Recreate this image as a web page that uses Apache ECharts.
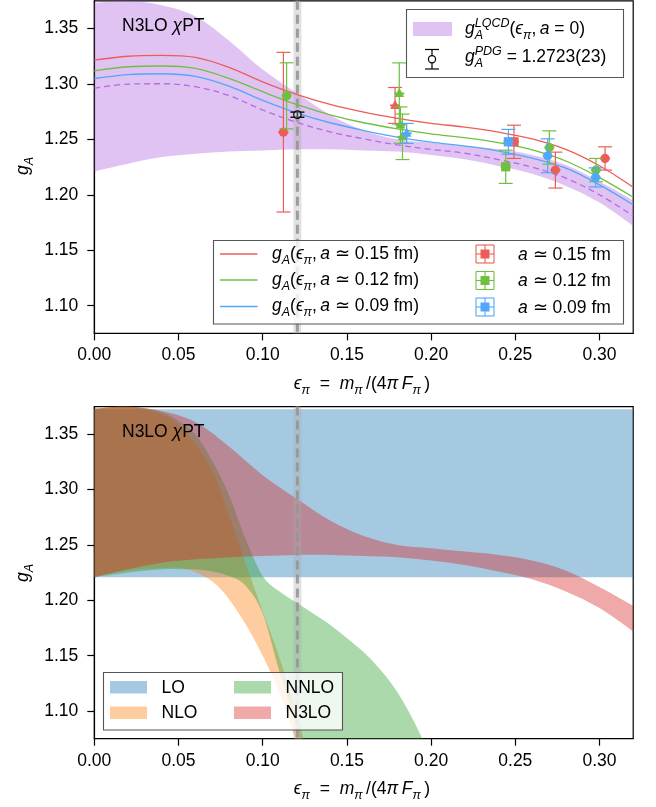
<!DOCTYPE html>
<html><head><meta charset="utf-8">
<script src="https://cdn.jsdelivr.net/npm/echarts@6/dist/echarts.min.js"></script>
<style>html,body{margin:0;padding:0;background:#fff}#c{width:656px;height:807px}</style>
</head><body><div id="c"></div>
<script>
// ---------------- data ----------------
const xTicks = [0.00, 0.05, 0.10, 0.15, 0.20, 0.25, 0.30];
const yTicks = [1.10, 1.15, 1.20, 1.25, 1.30, 1.35];
const physPoint = 0.1206;

// continuum extrapolated band (a = 0) == N3LO band
const bandX     = [0.00, 0.02, 0.04, 0.06, 0.08, 0.10, 0.12, 0.14, 0.16, 0.18, 0.20, 0.22, 0.24, 0.26, 0.28, 0.30, 0.32];
const bandUpper = [1.373, 1.375, 1.371, 1.361, 1.339, 1.313, 1.292, 1.272, 1.258, 1.250, 1.247, 1.244, 1.241, 1.236, 1.227, 1.212, 1.195];
const bandLower = [1.221, 1.228, 1.234, 1.237, 1.239, 1.240, 1.241, 1.241, 1.240, 1.239, 1.236, 1.232, 1.226, 1.219, 1.208, 1.193, 1.172];
const bandMid   = [1.2962, 1.2998, 1.3002, 1.2975, 1.2895, 1.2765, 1.2655, 1.2568, 1.2505, 1.2450, 1.2410, 1.2375, 1.2318, 1.2250, 1.2150, 1.2000, 1.1810];

// fit curves at finite lattice spacing
const fitA15 = [1.3214, 1.3250, 1.3258, 1.3240, 1.3150, 1.3018, 1.2905, 1.2815, 1.2745, 1.2690, 1.2645, 1.2610, 1.2565, 1.2505, 1.2410, 1.2262, 1.2068];
const fitA12 = [1.3118, 1.3155, 1.3162, 1.3140, 1.3050, 1.2930, 1.2815, 1.2722, 1.2650, 1.2595, 1.2550, 1.2515, 1.2470, 1.2405, 1.2305, 1.2155, 1.1978];
const fitA09 = [1.3049, 1.3085, 1.3092, 1.3068, 1.2980, 1.2852, 1.2740, 1.2650, 1.2580, 1.2520, 1.2475, 1.2440, 1.2395, 1.2330, 1.2240, 1.2090, 1.1910];

// lattice data points
const a15X = [0.1123, 0.1786, 0.2492, 0.2738, 0.3033];
const a15Y = [1.2565, 1.2806, 1.2478, 1.2223, 1.2328];
const a15E = [0.0720, 0.0162, 0.0150, 0.0162, 0.0105];
const a15S = ['circle', 'triangle', 'rect', 'circle', 'circle'];

const a12X = [0.1142, 0.1811, 0.1818, 0.1830, 0.2443, 0.2702, 0.2979];
const a12Y = [1.2893, 1.2914, 1.2629, 1.2523, 1.2253, 1.2427, 1.2223];
const a12E = [0.0298, 0.0276, 0.0164, 0.0205, 0.0150, 0.0150, 0.0105];
const a12S = ['circle', 'triangle', 'triangle', 'triangle', 'rect', 'circle', 'circle'];

const a09X = [0.1855, 0.2459, 0.2692, 0.2977];
const a09Y = [1.2554, 1.2478, 1.2352, 1.2157];
const a09E = [0.0090, 0.0112, 0.0153, 0.0086];
const a09S = ['triangle', 'rect', 'circle', 'circle'];

const pdgX = 0.1206, pdgY = 1.2723, pdgE = 0.0023;

// bottom panel: order-by-order bands
const loX = [0.00, 0.32];
const loLower = [1.2208, 1.2208];
const loUpper = [1.3725, 1.3725];

const nloX     = [0.00, 0.02, 0.04, 0.055, 0.07, 0.08, 0.09, 0.10, 0.11, 0.12, 0.125, 0.13];
const nloUpper = [1.373, 1.375, 1.368, 1.351, 1.317, 1.277, 1.233, 1.190, 1.148, 1.099, 1.070, 1.040];
const nloLower = [1.221, 1.227, 1.229, 1.228, 1.217, 1.201, 1.178, 1.150, 1.116, 1.072, 1.045, 1.015];

const nnloX     = [0.00, 0.02, 0.04, 0.05, 0.06, 0.07, 0.08, 0.09, 0.10, 0.11, 0.12, 0.13, 0.14, 0.15, 0.16, 0.17, 0.18, 0.19, 0.20];
const nnloUpper = [1.373, 1.375, 1.370, 1.362, 1.350, 1.326, 1.295, 1.255, 1.222, 1.208, 1.198, 1.188, 1.178, 1.166, 1.153, 1.137, 1.117, 1.090, 1.058];
const nnloLower = [1.221, 1.225, 1.228, 1.228, 1.228, 1.226, 1.222, 1.213, 1.188, 1.135, 1.085, 1.030, 0.980, 0.930, 0.900, 0.880, 0.860, 0.840, 0.820];

// ---------------- style ----------------
const RED = '#EC5D57', GREEN = '#70BF41', BLUE = '#51A7F9', PURPLE = '#B36AE2';
const FONT = '"Liberation Sans", Arial, Helvetica, sans-serif';
const FS = 17.5, SFS = 12.5;

const chart = echarts.init(document.getElementById('c'), null, {renderer: 'canvas'});

function smoothPath(pts) {
  let d = '';
  for (let i = 0; i < pts.length - 1; i++) {
    const p0 = pts[Math.max(i - 1, 0)], p1 = pts[i], p2 = pts[i + 1], p3 = pts[Math.min(i + 2, pts.length - 1)];
    const c1 = [p1[0] + (p2[0] - p0[0]) / 6, p1[1] + (p2[1] - p0[1]) / 6];
    const c2 = [p2[0] - (p3[0] - p1[0]) / 6, p2[1] - (p3[1] - p1[1]) / 6];
    d += ' C' + c1[0] + ' ' + c1[1] + ' ' + c2[0] + ' ' + c2[1] + ' ' + p2[0] + ' ' + p2[1];
  }
  return d;
}

function bandSeries(gi, xs, lo, hi, fill, z, smooth) {
  return {
    type: 'custom', xAxisIndex: gi, yAxisIndex: gi, z: z, silent: true,
    data: xs.map((x, i) => [x, lo[i], hi[i]]),
    encode: {x: 0, y: [1, 2]},
    renderItem: function (params, api) {
      if (params.dataIndex !== 0) return null;
      const up = xs.map((x, i) => api.coord([x, hi[i]]));
      const dn = xs.map((x, i) => api.coord([x, lo[i]])).reverse();
      let d = 'M' + up[0][0] + ' ' + up[0][1];
      d += smooth ? smoothPath(up) : up.slice(1).map(p => ' L' + p[0] + ' ' + p[1]).join('');
      d += ' L' + dn[0][0] + ' ' + dn[0][1];
      d += smooth ? smoothPath(dn) : dn.slice(1).map(p => ' L' + p[0] + ' ' + p[1]).join('');
      d += ' Z';
      const cs = params.coordSys;
      return {
        type: 'path', shape: {pathData: d}, style: {fill: fill},
        clipPath: {type: 'rect', shape: {x: cs.x, y: cs.y, width: cs.width, height: cs.height}}
      };
    }
  };
}

function lineSeries(ys, color, dashed) {
  return {
    type: 'line', xAxisIndex: 0, yAxisIndex: 0, z: 4, silent: true,
    data: bandX.map((x, i) => [x, ys[i]]), smooth: 0.35, showSymbol: false, symbol: 'none',
    lineStyle: {color: color, width: 1.3, type: dashed ? [6, 4] : 'solid'}
  };
}

function markerShape(sym, cx, cy, r, color) {
  if (sym === 'rect') return {type: 'rect', shape: {x: cx - r, y: cy - r, width: 2 * r, height: 2 * r}, style: {fill: color}};
  if (sym === 'triangle') return {type: 'polygon', shape: {points: [[cx, cy - r * 1.25], [cx - r * 1.05, cy + r * 0.75], [cx + r * 1.05, cy + r * 0.75]]}, style: {fill: color}};
  return {type: 'circle', shape: {cx: cx, cy: cy, r: r}, style: {fill: color}};
}

function pointSeries(xs, ys, es, syms, color) {
  return {
    type: 'custom', xAxisIndex: 0, yAxisIndex: 0, z: 6, silent: true,
    data: xs.map((x, i) => [x, ys[i], es[i]]),
    encode: {x: 0, y: 1},
    renderItem: function (params, api) {
      const i = params.dataIndex;
      const c = api.coord([api.value(0), api.value(1)]);
      const t = api.coord([api.value(0), api.value(1) + api.value(2)]);
      const b = api.coord([api.value(0), api.value(1) - api.value(2)]);
      const cw = 7;
      return {
        type: 'group', children: [
          {type: 'line', shape: {x1: c[0], y1: t[1], x2: c[0], y2: b[1]}, style: {stroke: color, lineWidth: 1.2}},
          {type: 'line', shape: {x1: c[0] - cw, y1: t[1], x2: c[0] + cw, y2: t[1]}, style: {stroke: color, lineWidth: 1.2}},
          {type: 'line', shape: {x1: c[0] - cw, y1: b[1], x2: c[0] + cw, y2: b[1]}, style: {stroke: color, lineWidth: 1.2}},
          {type: 'line', shape: {x1: c[0] - 5, y1: c[1], x2: c[0] + 5, y2: c[1]}, style: {stroke: color, lineWidth: 2}},
          markerShape(syms[i], c[0], c[1], 4.6, color)
        ]
      };
    }
  };
}

function physSeries(gi) {
  return {
    type: 'custom', xAxisIndex: gi, yAxisIndex: gi, z: gi === 0 ? 3 : 8, silent: true,
    data: [[physPoint, 1.2]], encode: {x: 0, y: 1},
    renderItem: function (params, api) {
      const cs = params.coordSys;
      const x = api.coord([physPoint, 1.2])[0];
      return {
        type: 'group', children: [
          {type: 'rect', shape: {x: x - 4, y: cs.y, width: 8, height: cs.height}, style: {fill: 'rgba(170,170,170,0.35)'}},
          {type: 'line', shape: {x1: x, y1: cs.y, x2: x, y2: cs.y + cs.height}, style: {stroke: 'rgba(150,150,150,0.9)', lineWidth: 3, lineDash: [9, 5]}}
        ]
      };
    }
  };
}

function pdgSeries() {
  return {
    type: 'custom', xAxisIndex: 0, yAxisIndex: 0, z: 7, silent: true,
    data: [[pdgX, pdgY, pdgE]], encode: {x: 0, y: 1},
    renderItem: function (params, api) {
      const c = api.coord([pdgX, pdgY]);
      const t = api.coord([pdgX, pdgY + pdgE]);
      const b = api.coord([pdgX, pdgY - pdgE]);
      return {
        type: 'group', children: [
          {type: 'line', shape: {x1: c[0], y1: t[1], x2: c[0], y2: b[1]}, style: {stroke: '#000', lineWidth: 1.3}},
          {type: 'line', shape: {x1: c[0] - 7, y1: t[1], x2: c[0] + 7, y2: t[1]}, style: {stroke: '#000', lineWidth: 1.3}},
          {type: 'line', shape: {x1: c[0] - 7, y1: b[1], x2: c[0] + 7, y2: b[1]}, style: {stroke: '#000', lineWidth: 1.3}},
          {type: 'circle', shape: {cx: c[0], cy: c[1], r: 3.7}, style: {fill: 'rgba(255,255,255,0.3)', stroke: '#000', lineWidth: 1.2}}
        ]
      };
    }
  };
}

// ---------- math-ish text layout with canvas measurement ----------
const mctx = document.createElement('canvas').getContext('2d');
function measure(t, size, it) { mctx.font = (it ? 'italic ' : '') + size + 'px ' + FONT; return mctx.measureText(t).width; }
function setZ(el, z) { el.z = z; if (el.children) el.children.forEach(c => setZ(c, z)); return el; }
// part: [text, {it, sub, sup, stack}]
function mathText(parts, x, baseline, align, z, rot) {
  const children = [];
  let cx = 0, lastX = 0;
  parts.forEach(p => {
    const t = p[0], o = p[1] || {};
    const size = (o.sub || o.sup) ? SFS : FS;
    const dy = o.sub ? 4.5 : (o.sup ? -8 : 0);
    const w = measure(t, size, o.it);
    let px = cx;
    if (o.stack) { px = lastX; }
    children.push({
      type: 'text', x: px, y: dy - 0.31 * size,
      style: {text: t, fontSize: size, fontFamily: FONT, fontStyle: o.it ? 'italic' : 'normal', fill: '#000', align: 'left', verticalAlign: 'middle'}
    });
    if (o.stack) { cx = Math.max(cx, px + w); }
    else { lastX = px; cx = px + w; }
  });
  const total = cx;
  const off = align === 'center' ? -total / 2 : (align === 'right' ? -total : 0);
  children.forEach(ch => { ch.x += off; });
  return setZ({type: 'group', x: x, y: baseline, rotation: rot || 0, children: children}, z || 30);
}

const xTitle = [['ϵ', {it: 1}], ['π', {it: 1, sub: 1}], ['  =  '], ['m', {it: 1}], ['π', {it: 1, sub: 1}], ['\u2009/(4'], ['π', {it: 1}], ['\u2009F', {it: 1}], ['π', {it: 1, sub: 1}], ['\u2009)']];
const yTitle = [['g', {it: 1}], ['A', {it: 1, sub: 1}]];
const chiPT = [['N3LO '], ['χ', {it: 1}], ['PT']];

function legendBox(x, y, w, h) {
  return {type: 'rect', z: 20, shape: {x: x, y: y, width: w, height: h}, style: {fill: 'rgba(255,255,255,0.8)', stroke: '#555', lineWidth: 1.1}};
}
function errIcon(cx, cy, color) {
  const s = 9;
  return setZ({type: 'group', children: [
    {type: 'line', shape: {x1: cx, y1: cy - s, x2: cx, y2: cy + s}, style: {stroke: color, lineWidth: 1.1}},
    {type: 'line', shape: {x1: cx - s, y1: cy, x2: cx + s, y2: cy}, style: {stroke: color, lineWidth: 1.1}},
    {type: 'line', shape: {x1: cx - s, y1: cy - s, x2: cx + s, y2: cy - s}, style: {stroke: color, lineWidth: 1.1}},
    {type: 'line', shape: {x1: cx - s, y1: cy + s, x2: cx + s, y2: cy + s}, style: {stroke: color, lineWidth: 1.1}},
    {type: 'line', shape: {x1: cx - s, y1: cy - s, x2: cx - s, y2: cy + s}, style: {stroke: color, lineWidth: 1.1}},
    {type: 'line', shape: {x1: cx + s, y1: cy - s, x2: cx + s, y2: cy + s}, style: {stroke: color, lineWidth: 1.1}},
    {type: 'rect', shape: {x: cx - 4.5, y: cy - 4.5, width: 9, height: 9}, style: {fill: color}}
  ]}, 30);
}

const legendFitText = (s) => [['g', {it: 1}], ['A', {it: 1, sub: 1}], ['('], ['ϵ', {it: 1}], ['π', {it: 1, sub: 1}], [',\u2009'], ['a', {it: 1}], [' ≃ ' + s + ' fm)']];
const legendPtText = (s) => [['a', {it: 1}], [' ≃ ' + s + ' fm']];

const graphics = [
  mathText(chiPT, 122, 31.7, 'left'),
  mathText(chiPT, 122, 437.7, 'left'),
  mathText(xTitle, 362, 390, 'center'),
  mathText(xTitle, 362, 795, 'center'),
  mathText(yTitle, 29, 166, 'center', 30, Math.PI / 2),
  mathText(yTitle, 29, 573, 'center', 30, Math.PI / 2),
  // top legend 1
  legendBox(406.5, 9.5, 217, 68),
  {type: 'rect', z: 30, shape: {x: 413, y: 22, width: 39, height: 14}, style: {fill: 'rgba(179,106,226,0.4)'}},
  mathText([['g', {it: 1}], ['A', {it: 1, sub: 1}], ['LQCD', {it: 1, sup: 1, stack: 1}], ['('], ['ϵ', {it: 1}], ['π', {it: 1, sub: 1}], [',\u2009'], ['a', {it: 1}], [' = 0)']], 465, 35, 'left'),
  setZ({type: 'group', children: [
    {type: 'line', shape: {x1: 432, y1: 49.5, x2: 432, y2: 69}, style: {stroke: '#000', lineWidth: 1.2}},
    {type: 'line', shape: {x1: 425, y1: 49.5, x2: 439, y2: 49.5}, style: {stroke: '#000', lineWidth: 1.2}},
    {type: 'line', shape: {x1: 425, y1: 69, x2: 439, y2: 69}, style: {stroke: '#000', lineWidth: 1.2}},
    {type: 'circle', shape: {cx: 432, cy: 59.3, r: 3.6}, style: {fill: '#fff', stroke: '#000', lineWidth: 1.2}}
  ]}, 30),
  mathText([['g', {it: 1}], ['A', {it: 1, sub: 1}], ['PDG', {it: 1, sup: 1, stack: 1}], [' = 1.2723(23)']], 465, 63, 'left'),
  // top legend 2
  legendBox(213.5, 240.5, 410, 83.5),
  {type: 'line', z: 30, shape: {x1: 220, y1: 254, x2: 257.5, y2: 254}, style: {stroke: RED, lineWidth: 1.3}},
  {type: 'line', z: 30, shape: {x1: 220, y1: 280, x2: 257.5, y2: 280}, style: {stroke: GREEN, lineWidth: 1.3}},
  {type: 'line', z: 30, shape: {x1: 220, y1: 306.5, x2: 257.5, y2: 306.5}, style: {stroke: BLUE, lineWidth: 1.3}},
  mathText(legendFitText('0.15'), 272, 259.5, 'left'),
  mathText(legendFitText('0.12'), 272, 285.5, 'left'),
  mathText(legendFitText('0.09'), 272, 311.5, 'left'),
  errIcon(485, 254, RED), errIcon(485, 280.5, GREEN), errIcon(485, 307, BLUE),
  mathText(legendPtText('0.15'), 518, 261, 'left'),
  mathText(legendPtText('0.12'), 518, 287, 'left'),
  mathText(legendPtText('0.09'), 518, 313.5, 'left'),
  // bottom legend
  legendBox(103.5, 672.5, 239, 57.5),
  {type: 'rect', z: 30, shape: {x: 110, y: 681, width: 37, height: 12.5}, style: {fill: 'rgba(31,119,180,0.4)'}},
  {type: 'rect', z: 30, shape: {x: 110, y: 706.5, width: 37, height: 12.5}, style: {fill: 'rgba(255,127,14,0.4)'}},
  {type: 'rect', z: 30, shape: {x: 234, y: 681, width: 37, height: 12.5}, style: {fill: 'rgba(44,160,44,0.4)'}},
  {type: 'rect', z: 30, shape: {x: 234, y: 706.5, width: 37, height: 12.5}, style: {fill: 'rgba(214,39,40,0.4)'}},
  mathText([['LO']], 161.5, 693.5, 'left'),
  mathText([['NLO']], 161.5, 719, 'left'),
  mathText([['NNLO']], 285.5, 693.5, 'left'),
  mathText([['N3LO']], 285.5, 719, 'left')
];

function xAxisCfg(gi) {
  return {
    type: 'value', gridIndex: gi, min: 0, max: 0.32,
    axisLine: {show: true, lineStyle: {color: '#000', width: 1.2}},
    axisTick: {show: true, length: 7, inside: false, lineStyle: {color: '#000', width: 1.2}, customValues: xTicks},
    axisLabel: {show: true, color: '#000', fontSize: FS, fontFamily: FONT, margin: 13, customValues: xTicks, formatter: v => v.toFixed(2)},
    splitLine: {show: false}
  };
}
function yAxisCfg(gi) {
  return {
    type: 'value', gridIndex: gi, min: 1.075, max: 1.375,
    axisLine: {show: true, lineStyle: {color: '#000', width: 1.2}},
    axisTick: {show: true, length: 7, inside: false, lineStyle: {color: '#000', width: 1.2}, customValues: yTicks},
    axisLabel: {show: true, color: '#000', fontSize: FS, fontFamily: FONT, margin: 16, customValues: yTicks, formatter: v => v.toFixed(2)},
    splitLine: {show: false}
  };
}

const option = {
  animation: false,
  backgroundColor: '#fff',
  grid: [
    {left: 94.3, top: 0.8, width: 538.9, height: 332.6, show: true, borderColor: '#000', borderWidth: 1.2, backgroundColor: 'transparent'},
    {left: 94.3, top: 406.6, width: 538.9, height: 332.1, show: true, borderColor: '#000', borderWidth: 1.2, backgroundColor: 'transparent'}
  ],
  xAxis: [xAxisCfg(0), xAxisCfg(1)],
  yAxis: [yAxisCfg(0), yAxisCfg(1)],
  series: [
    bandSeries(0, bandX, bandLower, bandUpper, 'rgba(179,106,226,0.4)', 1, true),
    physSeries(0),
    lineSeries(fitA15, RED, false),
    lineSeries(fitA12, GREEN, false),
    lineSeries(fitA09, BLUE, false),
    lineSeries(bandMid, PURPLE, true),
    pointSeries(a15X, a15Y, a15E, a15S, RED),
    pointSeries(a12X, a12Y, a12E, a12S, GREEN),
    pointSeries(a09X, a09Y, a09E, a09S, BLUE),
    pdgSeries(),
    bandSeries(1, loX, loLower, loUpper, 'rgba(31,119,180,0.4)', 1, false),
    bandSeries(1, nloX, nloLower, nloUpper, 'rgba(255,127,14,0.4)', 2, true),
    bandSeries(1, nnloX, nnloLower, nnloUpper, 'rgba(44,160,44,0.4)', 3, true),
    bandSeries(1, bandX, bandLower, bandUpper, 'rgba(214,39,40,0.4)', 4, true),
    physSeries(1)
  ],
  graphic: graphics
};
chart.setOption(option);
</script></body></html>
